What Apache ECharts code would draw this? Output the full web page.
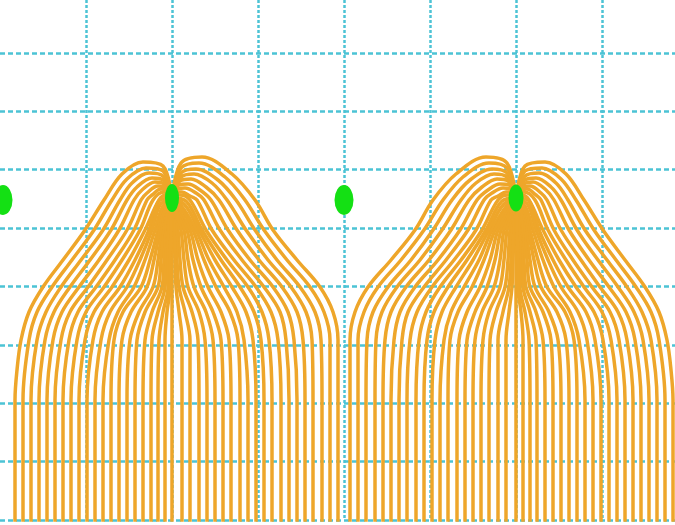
<!DOCTYPE html>
<html>
<head>
<meta charset="utf-8">
<script src="https://cdn.jsdelivr.net/npm/echarts@6/dist/echarts.min.js"></script>
<style>html,body{margin:0;padding:0;background:#fff}#c{width:675px;height:525px}</style>
</head>
<body>
<div id="c"></div>
<script>
const leftGroupLines = [
 [[172,322],[181,357],[202,363],[232,346],[255,320],[273,290],[297,260],[320,233],[333,208],[338,180],[338,120],[338,-10]],
 [[172,322],[181,352],[199,357],[225,343],[245,320],[264,290],[287,260],[310,233],[324,208],[330,180],[330,120],[330,-10]],
 [[172,322],[181,347],[196,351],[218,340],[236,320],[255,290],[277,260],[300,233],[315,208],[321,180],[322,120],[322,-10]],
 [[172,322],[181,343],[194,346],[212,337],[227,320],[246,290],[268,260],[291,233],[306,208],[312,180],[313,120],[313,-10]],
 [[172,322],[180,339],[191,341],[206,333],[219,320],[237,290],[259,260],[282,233],[297,208],[303,180],[305,120],[305,-10]],
 [[172,322],[179,335],[188,336],[200,330],[211,320],[228,290],[250,260],[273,233],[288,208],[294,180],[297,120],[297,-10]],
 [[172,322],[178,331],[185,332],[196,327],[204,320],[220,290],[242,260],[264,233],[280,208],[286,180],[289,120],[289,-10]],
 [[172,322],[177,328],[182,328],[190,324],[197,320],[212,290],[234,260],[256,233],[271,208],[278,180],[281,120],[281,-10]],
 [[172,322],[176,325],[180,325],[190,320],[206,290],[227,260],[248,233],[262,208],[269,180],[272,120],[272,-10]],
 [[172,322],[186,319],[202,290],[221,260],[240,233],[254,208],[261,180],[264,120],[264,-10]],
 [[172,322],[185,315],[199,290],[215,260],[232,233],[246,208],[253,180],[256,120],[256,-10]],
 [[172,322],[183,312],[196,290],[209,260],[224,233],[237,208],[244,180],[248,120],[248,-10]],
 [[172,322],[182,310],[193,290],[204,260],[216,233],[230,208],[238,180],[240,120],[240,-10]],
 [[172,322],[180,308],[190,290],[198,260],[208,233],[221,208],[229,180],[231,120],[231,-10]],
 [[172,322],[179,306],[187,290],[193,260],[201,233],[213,208],[221,180],[223,120],[223,-10]],
 [[172,322],[178,304],[184,290],[188,260],[194,233],[206,208],[213,180],[215,120],[215,-10]],
 [[172,322],[177,303],[181,290],[184,260],[188,233],[199,208],[205,180],[207,120],[207,-10]],
 [[172,322],[175,302],[178,290],[180,260],[183,233],[192,208],[198,180],[199,120],[199,-10]],
 [[172,322],[174,302],[176,290],[177,260],[179,233],[185,208],[190,180],[190,120],[190,-10]],
 [[172,322],[173,302],[174,290],[175,260],[176,233],[179,208],[182,180],[182,120],[182,-10]],
 [[172,322],[172,-10]],
 [[172,322],[163,354],[143,358],[122,346],[104,320],[85,290],[63,260],[43,233],[29,208],[21,180],[17,150],[15,120],[15,-10]],
 [[172,322],[163,349],[146,352],[127,341],[112,320],[94,290],[72,260],[52,233],[37,208],[29,180],[23,120],[23,-10]],
 [[172,322],[163,344],[149,347],[132,337],[120,320],[103,290],[81,260],[61,233],[46,208],[37,180],[31,120],[31,-10]],
 [[172,322],[163,340],[152,342],[137,333],[127,320],[111,290],[90,260],[70,233],[54,208],[45,180],[39,120],[39,-10]],
 [[172,322],[164,336],[155,338],[142,330],[134,320],[119,290],[99,260],[79,233],[62,208],[53,180],[47,120],[47,-10]],
 [[172,322],[165,333],[158,334],[147,327],[141,320],[127,290],[107,260],[88,233],[70,208],[61,180],[55,120],[55,-10]],
 [[172,322],[166,330],[161,331],[152,325],[147,320],[134,290],[115,260],[96,233],[78,208],[69,180],[63,120],[63,-10]],
 [[172,322],[167,327],[164,328],[153,320],[140,290],[122,260],[104,233],[86,208],[77,180],[71,120],[71,-10]],
 [[172,322],[168,324],[166,325],[159,320],[145,290],[129,260],[112,233],[94,208],[85,180],[79,120],[79,-10]],
 [[172,322],[159,319],[149,290],[135,260],[120,233],[102,208],[93,180],[87,120],[87,-10]],
 [[172,322],[160,315],[152,290],[140,260],[127,233],[110,208],[101,180],[95,120],[95,-10]],
 [[172,322],[162,312],[155,290],[145,260],[134,233],[118,208],[109,180],[103,120],[103,-10]],
 [[172,322],[163,310],[158,290],[150,260],[141,233],[123,208],[114,180],[111,120],[111,-10]],
 [[172,322],[164,308],[160,290],[154,260],[147,233],[131,208],[122,180],[119,120],[119,-10]],
 [[172,322],[165,306],[162,290],[158,260],[153,233],[139,208],[130,180],[127,120],[127,-10]],
 [[172,322],[166,304],[164,290],[161,260],[158,233],[145,208],[137,180],[135,120],[135,-10]],
 [[172,322],[167,303],[166,290],[164,260],[162,233],[152,208],[145,180],[143,120],[143,-10]],
 [[172,322],[169,302],[168,290],[166,260],[165,233],[158,208],[152,180],[151,120],[151,-10]],
 [[172,322],[170,302],[169,290],[168,260],[168,233],[163,208],[159,180],[158,120],[158,-10]],
 [[172,322],[171,302],[171,290],[170,260],[170,233],[167,208],[165,180],[165,120],[165,-10]]
];

// Field lines of the right source
const rightGroupLines = [
 [[516,322],[507,357],[486,363],[456,346],[433,320],[415,290],[391,260],[368,233],[355,208],[350,180],[350,120],[350,-10]],
 [[516,322],[507,352],[489,357],[463,343],[443,320],[424,290],[401,260],[378,233],[364,208],[358,180],[358,120],[358,-10]],
 [[516,322],[507,347],[492,351],[470,340],[452,320],[433,290],[411,260],[388,233],[373,208],[367,180],[366,120],[366,-10]],
 [[516,322],[507,343],[494,346],[476,337],[461,320],[442,290],[420,260],[397,233],[382,208],[376,180],[375,120],[375,-10]],
 [[516,322],[508,339],[497,341],[482,333],[469,320],[451,290],[429,260],[406,233],[391,208],[385,180],[383,120],[383,-10]],
 [[516,322],[509,335],[500,336],[488,330],[477,320],[460,290],[438,260],[415,233],[400,208],[394,180],[391,120],[391,-10]],
 [[516,322],[510,331],[503,332],[492,327],[484,320],[468,290],[446,260],[424,233],[408,208],[402,180],[399,120],[399,-10]],
 [[516,322],[511,328],[506,328],[498,324],[491,320],[476,290],[454,260],[432,233],[417,208],[410,180],[407,120],[407,-10]],
 [[516,322],[512,325],[508,325],[498,320],[482,290],[461,260],[440,233],[426,208],[419,180],[416,120],[416,-10]],
 [[516,322],[502,319],[486,290],[467,260],[448,233],[434,208],[427,180],[424,120],[424,-10]],
 [[516,322],[503,315],[489,290],[473,260],[456,233],[442,208],[435,180],[432,120],[432,-10]],
 [[516,322],[505,312],[492,290],[479,260],[464,233],[451,208],[444,180],[440,120],[440,-10]],
 [[516,322],[506,310],[495,290],[484,260],[472,233],[458,208],[450,180],[448,120],[448,-10]],
 [[516,322],[508,308],[498,290],[490,260],[480,233],[467,208],[459,180],[457,120],[457,-10]],
 [[516,322],[509,306],[501,290],[495,260],[487,233],[475,208],[467,180],[465,120],[465,-10]],
 [[516,322],[510,304],[504,290],[500,260],[494,233],[482,208],[475,180],[473,120],[473,-10]],
 [[516,322],[511,303],[507,290],[504,260],[500,233],[489,208],[483,180],[481,120],[481,-10]],
 [[516,322],[513,302],[510,290],[508,260],[505,233],[496,208],[490,180],[489,120],[489,-10]],
 [[516,322],[514,302],[512,290],[511,260],[509,233],[503,208],[498,180],[498,120],[498,-10]],
 [[516,322],[515,302],[514,290],[513,260],[512,233],[509,208],[506,180],[506,120],[506,-10]],
 [[516,322],[516,-10]],
 [[516,322],[525,354],[545,358],[566,346],[584,320],[603,290],[625,260],[645,233],[659,208],[667,180],[671,150],[673,120],[673,-10]],
 [[516,322],[525,349],[542,352],[561,341],[576,320],[594,290],[616,260],[636,233],[651,208],[659,180],[665,120],[665,-10]],
 [[516,322],[525,344],[539,347],[556,337],[568,320],[585,290],[607,260],[627,233],[642,208],[651,180],[657,120],[657,-10]],
 [[516,322],[525,340],[536,342],[551,333],[561,320],[577,290],[598,260],[618,233],[634,208],[643,180],[649,120],[649,-10]],
 [[516,322],[524,336],[533,338],[546,330],[554,320],[569,290],[589,260],[609,233],[626,208],[635,180],[641,120],[641,-10]],
 [[516,322],[523,333],[530,334],[541,327],[547,320],[561,290],[581,260],[600,233],[618,208],[627,180],[633,120],[633,-10]],
 [[516,322],[522,330],[527,331],[536,325],[541,320],[554,290],[573,260],[592,233],[610,208],[619,180],[625,120],[625,-10]],
 [[516,322],[521,327],[524,328],[535,320],[548,290],[566,260],[584,233],[602,208],[611,180],[617,120],[617,-10]],
 [[516,322],[520,324],[522,325],[529,320],[543,290],[559,260],[576,233],[594,208],[603,180],[609,120],[609,-10]],
 [[516,322],[529,319],[539,290],[553,260],[568,233],[586,208],[595,180],[601,120],[601,-10]],
 [[516,322],[528,315],[536,290],[548,260],[561,233],[578,208],[587,180],[593,120],[593,-10]],
 [[516,322],[526,312],[533,290],[543,260],[554,233],[570,208],[579,180],[585,120],[585,-10]],
 [[516,322],[525,310],[530,290],[538,260],[547,233],[565,208],[574,180],[577,120],[577,-10]],
 [[516,322],[524,308],[528,290],[534,260],[541,233],[557,208],[566,180],[569,120],[569,-10]],
 [[516,322],[523,306],[526,290],[530,260],[535,233],[549,208],[558,180],[561,120],[561,-10]],
 [[516,322],[522,304],[524,290],[527,260],[530,233],[543,208],[551,180],[553,120],[553,-10]],
 [[516,322],[521,303],[522,290],[524,260],[526,233],[536,208],[543,180],[545,120],[545,-10]],
 [[516,322],[519,302],[520,290],[522,260],[523,233],[530,208],[536,180],[537,120],[537,-10]],
 [[516,322],[518,302],[519,290],[520,260],[520,233],[525,208],[529,180],[530,120],[530,-10]],
 [[516,322],[517,302],[517,290],[518,260],[518,233],[521,208],[523,180],[523,120],[523,-10]]
];

// Charges (green dots)
const chargeX = [3, 172, 344, 516];
const chargeY = [320, 322, 320, 322];

const chargeSizes = [[19, 30], [14, 28], [19, 30], [15, 27]];
const lineColor = '#eea62a';

const chart = echarts.init(document.getElementById('c'), null, {renderer: 'canvas'});
const series = [];
leftGroupLines.concat(rightGroupLines).forEach(function (pts) {
  series.push({
    type: 'line', data: pts, smooth: 0.35, showSymbol: false, silent: true,
    clip: true, z: 2,
    lineStyle: {color: lineColor, width: 3.5}
  });
});
series.push({
  type: 'scatter', z: 5, silent: true, clip: true,
  data: chargeX.map(function (x, i) {
    return {value: [x, chargeY[i]], symbolSize: chargeSizes[i]};
  }),
  itemStyle: {color: '#14e014', opacity: 1}
});

const gridColor = '#4cc3d5';

chart.setOption({
  animation: false,
  backgroundColor: '#ffffff',
  grid: {left: 0, right: 0, top: 0, bottom: 5, containLabel: false},
  xAxis: {type: 'value', min: 0, max: 675, interval: 86,
    axisLine: {show: false}, axisTick: {show: false}, axisLabel: {show: false},
    splitLine: {show: true, showMinLine: false, showMaxLine: false,
      lineStyle: {color: gridColor, width: 2.5, type: [3, 2]}}},
  yAxis: {type: 'value', min: 0, max: 520, interval: 58.4,
    axisLine: {show: false}, axisTick: {show: false}, axisLabel: {show: false},
    splitLine: {show: true, showMinLine: true, showMaxLine: false,
      lineStyle: {color: gridColor, width: 2.5, type: [5, 3]}}},
  series: series
});
</script>
</body>
</html>
